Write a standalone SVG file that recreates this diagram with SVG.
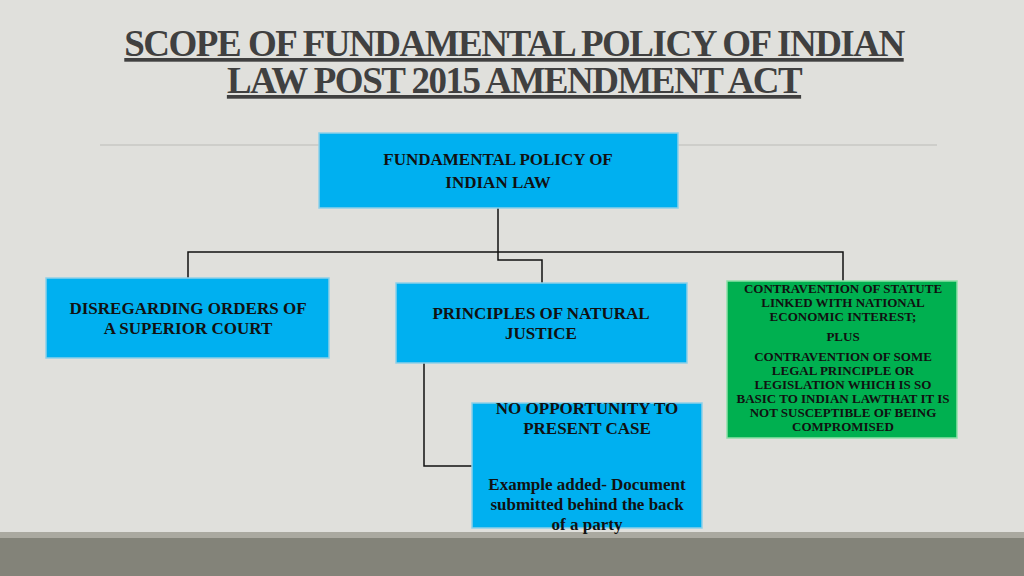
<svg xmlns="http://www.w3.org/2000/svg" width="1024" height="576" viewBox="0 0 1024 576">
<style>
text{font-family:"Liberation Serif",serif;font-weight:bold;fill:#111;text-anchor:middle}
.b{fill:#00b0f0;stroke:#8ecfe8;stroke-width:1.5}
.g{fill:#00b050;stroke:#8fe0a8;stroke-width:1.5}
.t{font-size:17px}
.s{font-size:13px}
.c{fill:none;stroke:#111;stroke-width:1.5}
</style>
<rect width="1024" height="576" fill="#e0e0dc"/>
<rect y="532" width="1024" height="6" fill="#aaa9a0"/>
<rect y="538" width="1024" height="38" fill="#838379"/>
<line x1="100" y1="145" x2="937" y2="145" stroke="#c8c8c4" stroke-width="1.5"/>
<g id="title" style="font-size:37px;fill:#404040;text-decoration:underline;letter-spacing:-1.5px">
<text x="514" y="56" style="fill:#404040">SCOPE OF FUNDAMENTAL POLICY OF INDIAN</text>
<text x="514" y="93" style="fill:#404040">LAW POST 2015 AMENDMENT ACT</text>
</g>
<g id="connectors">
<path class="c" d="M498 208V252H188V278M498 252H843V281M498 208V260H542V283M424 363V466H472"/>
</g>
<g id="n1"><rect class="b" x="319" y="133" width="359" height="75"/>
<text class="t" x="498" y="165">FUNDAMENTAL POLICY OF</text><text class="t" x="498" y="188">INDIAN LAW</text></g>
<g id="n2"><rect class="b" x="46" y="278" width="283" height="80"/>
<text class="t" x="188" y="314">DISREGARDING ORDERS OF</text><text class="t" x="188" y="334">A SUPERIOR COURT</text></g>
<g id="n3"><rect class="b" x="396" y="283" width="291" height="80"/>
<text class="t" x="541" y="319">PRINCIPLES OF NATURAL</text><text class="t" x="541" y="339">JUSTICE</text></g>
<g id="n4"><rect class="g" x="727" y="281" width="230" height="157"/>
<text class="s" x="843" y="293">CONTRAVENTION OF STATUTE</text>
<text class="s" x="843" y="307">LINKED WITH NATIONAL</text>
<text class="s" x="843" y="321">ECONOMIC INTEREST;</text>
<text class="s" x="843" y="341">PLUS</text>
<text class="s" x="843" y="361">CONTRAVENTION OF SOME</text>
<text class="s" x="843" y="375">LEGAL PRINCIPLE OR</text>
<text class="s" x="843" y="389">LEGISLATION WHICH IS SO</text>
<text class="s" x="843" y="403">BASIC TO INDIAN LAWTHAT IT IS</text>
<text class="s" x="843" y="417">NOT SUSCEPTIBLE OF BEING</text>
<text class="s" x="843" y="431">COMPROMISED</text></g>
<g id="n5"><rect class="b" x="472" y="403" width="230" height="125"/>
<text class="t" x="587" y="414">NO OPPORTUNITY TO</text>
<text class="t" x="587" y="434">PRESENT CASE</text>
<text class="t" x="587" y="490">Example added- Document</text>
<text class="t" x="587" y="510">submitted behind the back</text>
<text class="t" x="587" y="530">of a party</text></g>
</svg>
